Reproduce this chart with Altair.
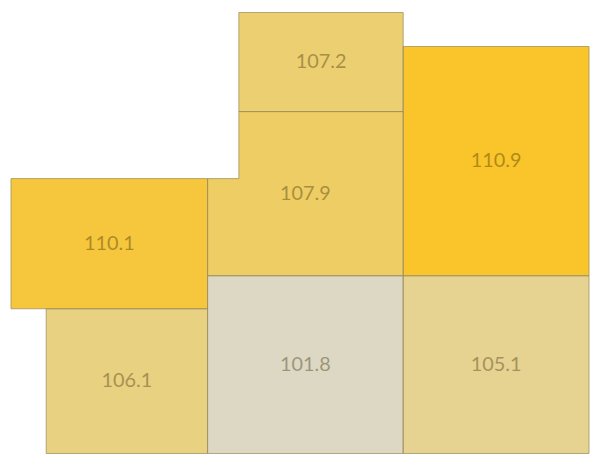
import altair as alt
import pandas as pd

# Tile values (labels shown inside each tile)
values = [107.2, 107.9, 110.9, 110.1, 106.1, 101.8, 105.1]
labels = ["107.2", "107.9", "110.9", "110.1", "106.1", "101.8", "105.1"]

# Cartogram layout grid (edge positions in layout units)
col_edges = [7, 43, 208, 240, 408, 598]
row_edges = [6, 41, 108, 177, 277, 311, 460]

# Tile outlines as polygons of (col, row) grid vertices
shapes = [
    [(3, 0), (4, 0), (4, 2), (3, 2)],
    [(3, 2), (4, 2), (4, 4), (2, 4), (2, 3), (3, 3)],
    [(4, 1), (5, 1), (5, 4), (4, 4)],
    [(0, 3), (2, 3), (2, 5), (0, 5)],
    [(1, 5), (2, 5), (2, 6), (1, 6)],
    [(2, 4), (4, 4), (4, 6), (2, 6)],
    [(4, 4), (5, 4), (5, 6), (4, 6)],
]
# Fill pieces per tile (c0, c1, r0, r1)
pieces = [
    [(3, 4, 0, 2)],
    [(3, 4, 2, 4), (2, 4, 3, 4)],
    [(4, 5, 1, 4)],
    [(0, 2, 3, 5)],
    [(1, 2, 5, 6)],
    [(2, 4, 4, 6)],
    [(4, 5, 4, 6)],
]

fill_rows, line_rows, text_rows = [], [], []
for i, (v, lab) in enumerate(zip(values, labels)):
    for c0, c1, r0, r1 in pieces[i]:
        fill_rows.append(dict(tile=i, value=v, x=col_edges[c0], x2=col_edges[c1],
                              y=row_edges[r0], y2=row_edges[r1]))
    poly = shapes[i] + [shapes[i][0]]
    for k, (c, r) in enumerate(poly):
        line_rows.append(dict(tile=i, k=k, x=col_edges[c], y=row_edges[r]))
    xs = [col_edges[c] for c, r in shapes[i]]
    ys = [row_edges[r] for c, r in shapes[i]]
    text_rows.append(dict(tile=i, value=v, label=lab,
                          x=(min(xs) + max(xs)) / 2, y=(min(ys) + max(ys)) / 2))

fills = pd.DataFrame(fill_rows)
lines = pd.DataFrame(line_rows)
texts = pd.DataFrame(text_rows)

xs = alt.Scale(domain=[col_edges[0], col_edges[-1]], nice=False, zero=False)
ys = alt.Scale(domain=[row_edges[0], row_edges[-1]], nice=False, zero=False, reverse=True)
cs = alt.Scale(domain=[101.8, 110.9], range=["#DDD8C4", "#F9C52A"])

rects = alt.Chart(fills).mark_rect(strokeWidth=0).encode(
    x=alt.X("x:Q", scale=xs, axis=None),
    x2="x2:Q",
    y=alt.Y("y:Q", scale=ys, axis=None),
    y2="y2:Q",
    color=alt.Color("value:Q", scale=cs, legend=None),
)

outlines = alt.Chart(lines).mark_line(color="#9C8D5C", strokeWidth=1, opacity=0.75).encode(
    x=alt.X("x:Q", scale=xs, axis=None),
    y=alt.Y("y:Q", scale=ys, axis=None),
    detail="tile:N",
    order="k:Q",
)

text = alt.Chart(texts).mark_text(
    font="Lato", fontSize=20, color="#3a2a00", opacity=0.38
).encode(
    x=alt.X("x:Q", scale=xs, axis=None),
    y=alt.Y("y:Q", scale=ys, axis=None),
    text="label:N",
)

chart = (rects + outlines + text).properties(
    width=582, height=444, padding=1, background="white"
).configure_view(stroke=None)

chart.save("out.html", embed_options={"renderer": "svg", "actions": False})
